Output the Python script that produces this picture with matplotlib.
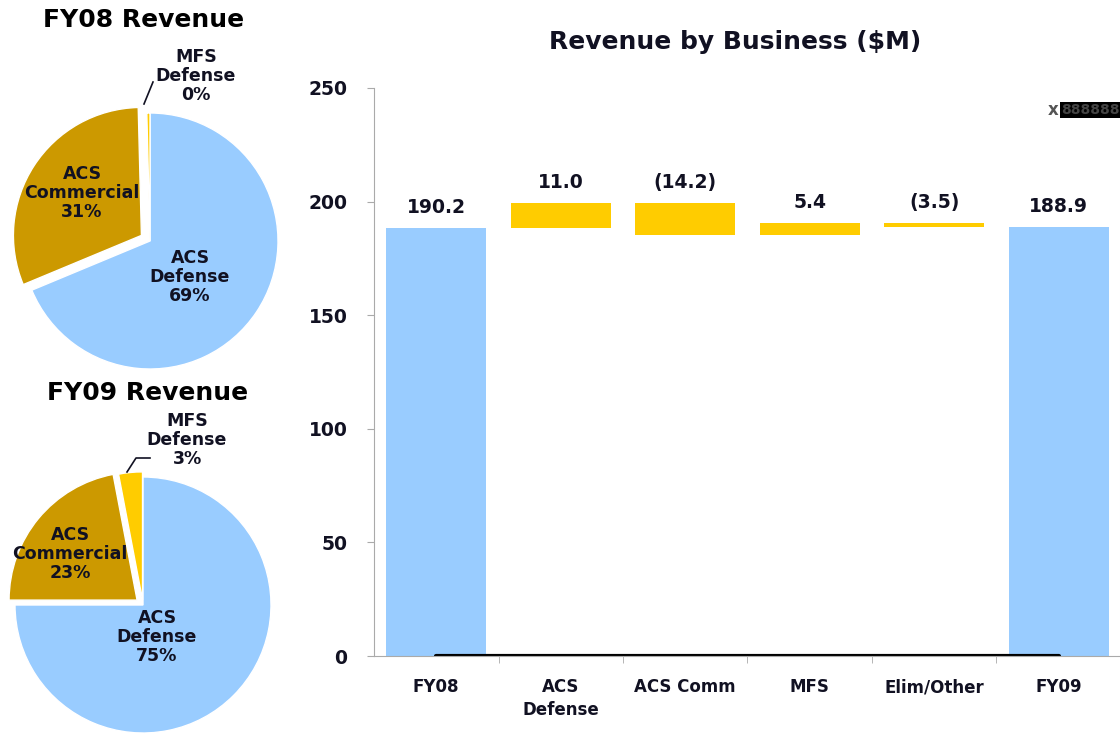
import numpy as np
import matplotlib
matplotlib.use('Agg')
from matplotlib import pyplot as plt

plt.rcParams['font.family'] = 'DejaVu Sans'
plt.rcParams['font.weight'] = 'bold'

# Waterfall data (bars as drawn in the source picture)
categories = ['FY08', 'ACS\nDefense', 'ACS Comm', 'MFS', 'Elim/Other', 'FY09']
bar_bottom = [0, 188.5, 185.3, 185.3, 189.0, 0]
bar_height = [188.5, 11.0, 14.2, 5.4, 1.7, 188.9]
value_labels = ['190.2', '11.0', '(14.2)', '5.4', '(3.5)', '188.9']
is_total = [True, False, False, False, False, True]

# Pie data
pie_names = ['ACS\nDefense', 'ACS\nCommercial', 'MFS\nDefense']
fy08_share = [69, 31, 0.4]
fy08_text = ['69%', '31%', '0%']
fy09_share = [75, 22, 3]
fy09_text = ['75%', '23%', '3%']

blue = '#99CCFF'
gold = '#CC9900'
yellow = '#FFCC00'
ink = '#111122'

fig = plt.figure(figsize=(11.2, 7.35), dpi=100)
W, H = 1120, 735


def px_axes(x0, y0, x1, y1):
    return fig.add_axes([x0 / W, 1 - y1 / H, (x1 - x0) / W, (y1 - y0) / H])


# ---- bar chart ----
ax = px_axes(374, 88, 1121, 656)
x = np.arange(len(categories))
colors = [blue if t else yellow for t in is_total]
ax.bar(x, bar_height, bottom=bar_bottom, width=0.8, color=colors)
ax.plot([x[0], x[-1]], [0, 0], color='black', lw=3, solid_capstyle='round')
for xi, b, h, lab in zip(x, bar_bottom, bar_height, value_labels):
    ax.annotate(lab, (xi, b + h), xytext=(0, 8), textcoords='offset points',
                ha='center', va='bottom', fontsize=13.5, fontweight='bold',
                color=ink)

ax.set_xlim(-0.5, len(categories) - 0.5)
ax.set_ylim(0, 250)
ax.set_yticks([0, 50, 100, 150, 200, 250])
ax.set_xticks(x)
ax.set_xticklabels(categories, fontsize=12, fontweight='bold', color=ink,
                   va='top', linespacing=1.35)
ax.set_xticks(x[:-1] + 0.5, minor=True)
ax.tick_params(axis='x', which='major', length=0, pad=16)
ax.tick_params(axis='x', which='minor', length=5, color='#aaaaaa')
ax.tick_params(axis='y', length=5, color='#aaaaaa', labelsize=13.5, pad=14,
               labelcolor=ink)
for t in ax.get_yticklabels():
    t.set_fontweight('bold')
for s in ['top', 'right']:
    ax.spines[s].set_visible(False)
for s in ['left', 'bottom']:
    ax.spines[s].set_color('#aaaaaa')
fig.text(735 / W, 1 - 42 / H, 'Revenue by Business ($M)', fontsize=18,
         fontweight='bold', color=ink, ha='center', va='center')

# stray overlapped labels at the top right
fig.text(1048 / W, 1 - 110 / H, 'x', fontsize=12, color='#555555', va='center')
fig.text(1061 / W, 1 - 110 / H, '888888', fontsize=10, fontweight='bold',
         color='#444444', va='center',
         bbox=dict(facecolor='black', edgecolor='none', pad=1))


# ---- pies ----
def draw_pie(box, center, shares, pct, explode, title, title_xy, label_xy, leader):
    pa = px_axes(*box)
    cx, cy = center
    r = 128.0
    pa.axis('off')
    pa.pie(shares, colors=[blue, gold, yellow], startangle=90, counterclock=False,
           explode=explode, wedgeprops=dict(edgecolor='white', linewidth=1))
    pa.set_xlim((box[0] - cx) / r, (box[2] - cx) / r)
    pa.set_ylim((cy - box[3]) / r, (cy - box[1]) / r)
    pa.set_aspect('auto')

    def d(p):
        return ((p[0] - cx) / r, (cy - p[1]) / r)

    pa.text(*d(title_xy), title, fontsize=18, fontweight='bold', ha='center',
            va='center', color='black')
    for name, p, lxy in zip(pie_names, pct, label_xy):
        pa.text(*d(lxy), name + '\n' + p, fontsize=12.5, fontweight='bold',
                ha='center', va='center', color=ink, linespacing=1.1)
    lx, ly = zip(*[d(p) for p in leader])
    pa.plot(lx, ly, color=ink, lw=1.2)


draw_pie((0, 0, 300, 370), (150, 241), fy08_share, fy08_text, [0, 0.08, 0],
         'FY08 Revenue', (144, 20),
         [(190, 277), (82, 193), (196, 76)],
         [(144, 104), (153, 82)])
draw_pie((0, 370, 300, 735), (143, 605), fy09_share, fy09_text, [0, 0.06, 0.04],
         'FY09 Revenue', (148, 393),
         [(157, 637), (70, 554), (187, 440)],
         [(127, 472), (136, 458), (150, 458)])

fig.savefig('out.png', dpi=100)
